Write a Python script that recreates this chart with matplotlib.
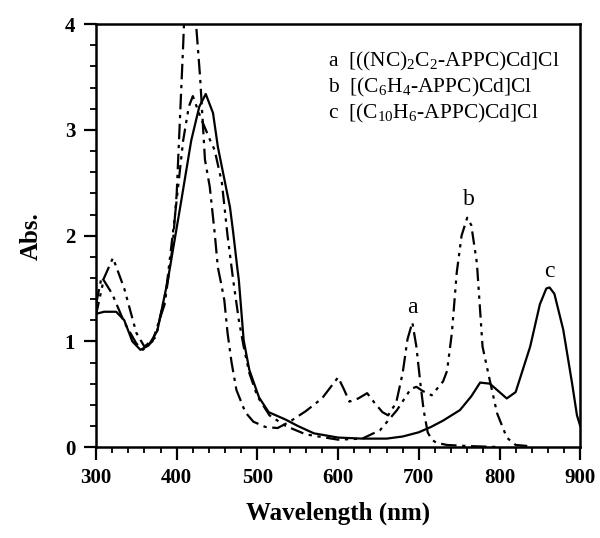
import matplotlib
matplotlib.use("Agg")
import matplotlib.pyplot as plt
import numpy as np
from matplotlib.ticker import MultipleLocator

plt.rcParams['font.family'] = ['Liberation Serif', 'DejaVu Serif']
plt.rcParams['mathtext.fontset'] = 'custom'
plt.rcParams['mathtext.rm'] = 'Liberation Serif'
plt.rcParams['mathtext.it'] = 'Liberation Serif:italic'
plt.rcParams['mathtext.bf'] = 'Liberation Serif:bold'

# curve a: [((NC)2C2-APPC)Cd]Cl
wl_a = [300, 307, 320, 335, 350, 358, 370, 385, 395, 400, 404, 408, 412, 416, 420, 424, 429, 435,
        441, 447, 451, 455, 459, 463, 468, 474, 485, 495, 510, 525, 540, 560, 580, 590, 600,
        607, 614, 625, 636, 645, 655, 662, 672, 680, 686, 692, 697, 702, 706, 711, 716, 722,
        735, 760, 800]
abs_a = [1.35, 1.61, 1.45, 1.18, 0.98, 0.92, 1.0, 1.35, 1.9, 2.4, 3.1, 3.8, 4.6, 4.9, 4.7, 4.0, 3.5,
         2.72, 2.46, 2.03, 1.7, 1.55, 1.39, 1.08, 0.8, 0.54, 0.33, 0.24, 0.19, 0.18, 0.24, 0.34,
         0.46, 0.56, 0.66, 0.55, 0.43, 0.46, 0.51, 0.42, 0.33, 0.30, 0.42, 0.7, 1.02, 1.18, 0.95,
         0.6, 0.35, 0.14, 0.07, 0.04, 0.02, 0.01, 0.0]

# curve b: [(C6H4-APPC)Cd]Cl
wl_b = [300, 310, 321, 335, 350, 360, 374, 387, 398, 408, 415, 420, 429, 441, 447, 456, 463,
        470, 477, 483, 490, 500, 515, 535, 560, 600, 630, 652, 673, 690, 697, 705, 716, 730,
        735, 741, 747, 753, 760, 765, 772, 779, 788, 797, 809, 820, 835]
abs_b = [1.25, 1.6, 1.79, 1.5, 1.08, 0.95, 1.04, 1.49, 2.2, 2.9, 3.22, 3.32, 3.13, 2.91, 2.81,
         2.5, 2.0, 1.58, 1.2, 0.95, 0.7, 0.48, 0.3, 0.2, 0.12, 0.07, 0.08, 0.16, 0.35, 0.55,
         0.57, 0.53, 0.49, 0.62, 0.72, 1.08, 1.65, 2.0, 2.17, 2.1, 1.74, 0.95, 0.63, 0.32, 0.09,
         0.02, 0.01]

# curve c: [(C10H6-APPC)Cd]Cl
wl_c = [300, 310, 325, 335, 345, 355, 365, 376, 389, 405, 418, 428, 436, 445, 451, 456, 466,
        470, 475, 477, 483, 490, 502, 514, 535, 550, 570, 600, 630, 660, 680, 700, 715, 730,
        751, 765, 776, 788, 800, 809, 820, 838, 850, 858, 862, 868, 879, 890, 896, 900]
abs_c = [1.26, 1.28, 1.28, 1.2, 1.0, 0.92, 0.96, 1.1, 1.58, 2.3, 2.9, 3.22, 3.34, 3.16, 2.84,
         2.65, 2.27, 2.03, 1.7, 1.58, 1.01, 0.73, 0.47, 0.33, 0.26, 0.2, 0.13, 0.09, 0.08, 0.08,
         0.1, 0.14, 0.19, 0.25, 0.35, 0.48, 0.61, 0.6, 0.52, 0.46, 0.52, 0.95, 1.35, 1.5, 1.51,
         1.45, 1.11, 0.6, 0.3, 0.2]

legend_lines = [r'a  [((NC)$_2$C$_2$-APPC)Cd]Cl',
                r'b  [(C$_6$H$_4$-APPC)Cd]Cl',
                r'c  [(C$_{10}$H$_6$-APPC)Cd]Cl']

fig = plt.figure(figsize=(6.0, 5.38), dpi=100)
ax = fig.add_axes([0.16, 0.169, 0.807, 0.786])

ax.plot(wl_a, abs_a, color='black', lw=1.6, dashes=(7, 2.5, 1.5, 2.5))
ax.plot(wl_b, abs_b, color='black', lw=1.6, dashes=(6, 2.5, 1.5, 2.5, 1.5, 2.5))
ax.plot(wl_c, abs_c, color='black', lw=1.6)

ax.set_xlim(300, 900)
ax.set_ylim(0, 4)
ax.xaxis.set_major_locator(MultipleLocator(100))
ax.xaxis.set_minor_locator(MultipleLocator(20))
ax.yaxis.set_major_locator(MultipleLocator(1))
ax.yaxis.set_minor_locator(MultipleLocator(0.2))
ax.tick_params(which='major', direction='out', length=9, width=1.6, labelsize=15, pad=6)
ax.tick_params(which='minor', direction='out', length=4.5, width=1.3)
for lab in ax.get_xticklabels() + ax.get_yticklabels():
    lab.set_fontweight('bold')
for sp in ax.spines.values():
    sp.set_linewidth(1.8)

ax.set_xlabel('Wavelength (nm)', fontsize=18, fontweight='bold', labelpad=10)
ax.set_ylabel('Abs.', fontsize=18, fontweight='bold', labelpad=16)

ax.text(692, 1.32, 'a', fontsize=17, ha='center', va='center')
ax.text(762, 2.34, 'b', fontsize=17, ha='center', va='center')
ax.text(862, 1.66, 'c', fontsize=17, ha='center', va='center')

for i, s in enumerate(legend_lines):
    ax.text(0.479, 0.912 - i * 0.062, s, transform=ax.transAxes, fontsize=15.5,
            ha='left', va='center')

fig.savefig('out.png', dpi=100)
